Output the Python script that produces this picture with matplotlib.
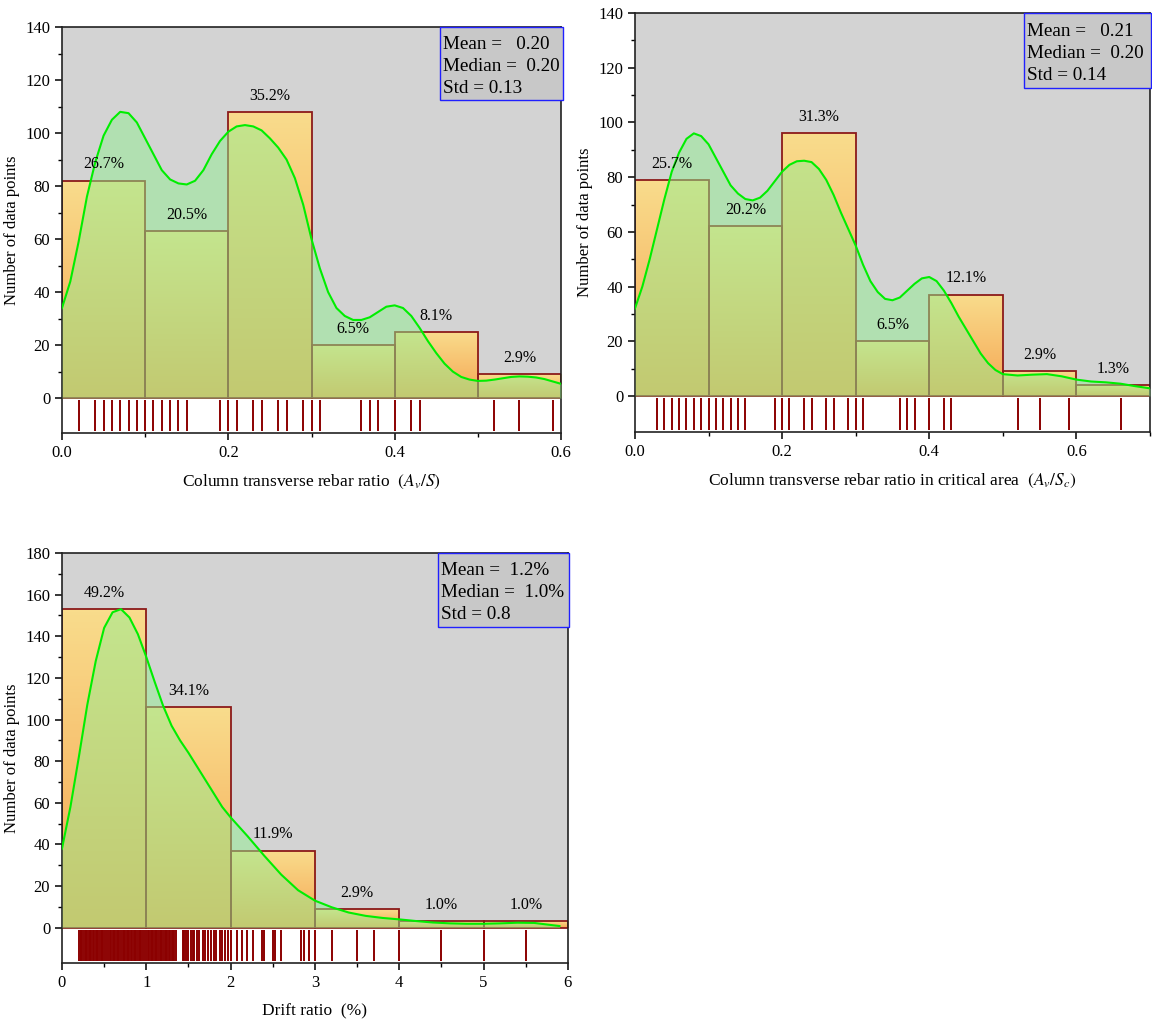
import numpy as np
import matplotlib
matplotlib.use("Agg")
import matplotlib.pyplot as plt
from matplotlib.colors import LinearSegmentedColormap
from matplotlib.patches import Rectangle

plt.rcParams['font.family'] = ['Liberation Serif', 'DejaVu Serif']
plt.rcParams['mathtext.fontset'] = 'stix'
plt.rcParams['font.size'] = 12

# --- column transverse rebar ratio (Av/S) ---
av_edges = [0.0, 0.1, 0.2, 0.3, 0.4, 0.5, 0.6]
av_counts = [82, 63, 108, 20, 25, 9]
av_kde_x = [0.00, 0.01, 0.02, 0.03, 0.04, 0.05, 0.06, 0.07, 0.08, 0.09,
            0.10, 0.11, 0.12, 0.13, 0.14, 0.15, 0.16, 0.17, 0.18, 0.19,
            0.20, 0.21, 0.22, 0.23, 0.24, 0.25, 0.26, 0.27, 0.28, 0.29,
            0.30, 0.31, 0.32, 0.33, 0.34, 0.35, 0.36, 0.37, 0.38, 0.39,
            0.40, 0.41, 0.42, 0.43, 0.44, 0.45, 0.46, 0.47, 0.48, 0.49,
            0.50, 0.51, 0.52, 0.53, 0.54, 0.55, 0.56, 0.57, 0.58, 0.59, 0.60]
av_kde_y = [34, 44, 59, 76, 89, 99, 105, 108, 107.5, 104,
            98, 92, 86, 82.5, 81, 80.6, 82, 86, 92, 97,
            100.5, 102.5, 103, 102.5, 101, 98, 94.5, 90, 83, 73,
            60, 49, 40, 34, 31, 29.5, 29.5, 30.5, 32.5, 34.5,
            35, 34, 31, 26.5, 21.5, 17, 13, 10, 8, 7,
            6.5, 6.6, 7, 7.5, 8, 8.2, 8.1, 7.8, 7.2, 6.3, 5.4]
av_rug = [0.02, 0.04, 0.05, 0.06, 0.07, 0.08, 0.09, 0.10, 0.11, 0.12, 0.13,
          0.14, 0.15, 0.19, 0.20, 0.21, 0.23, 0.24, 0.26, 0.27, 0.29, 0.30,
          0.31, 0.36, 0.37, 0.38, 0.40, 0.42, 0.43, 0.52, 0.55, 0.59]
av_stats = ["Mean =   0.20", "Median =  0.20", "Std = 0.13"]

# --- transverse rebar ratio in critical area (Av/Sc) ---
avc_edges = [0.0, 0.1, 0.2, 0.3, 0.4, 0.5, 0.6, 0.7]
avc_counts = [79, 62, 96, 20, 37, 9, 4]
avc_kde_x = [0.00, 0.01, 0.02, 0.03, 0.04, 0.05, 0.06, 0.07, 0.08, 0.09,
             0.10, 0.11, 0.12, 0.13, 0.14, 0.15, 0.16, 0.17, 0.18, 0.19,
             0.20, 0.21, 0.22, 0.23, 0.24, 0.25, 0.26, 0.27, 0.28, 0.29,
             0.30, 0.31, 0.32, 0.33, 0.34, 0.35, 0.36, 0.37, 0.38, 0.39,
             0.40, 0.41, 0.42, 0.43, 0.44, 0.45, 0.46, 0.47, 0.48, 0.49,
             0.50, 0.52, 0.54, 0.56, 0.58, 0.60, 0.62, 0.64, 0.66, 0.68, 0.70]
avc_kde_y = [32, 40, 50, 61, 72, 82, 89, 94, 96, 95,
             92, 87, 82, 77, 74, 72, 71.5, 72.5, 75, 78.5,
             82, 84.5, 85.8, 86, 85.5, 83, 79, 73.5, 67, 61,
             55, 48, 42, 38, 35.5, 35, 36, 38.5, 41, 43,
             43.5, 42, 38.5, 34, 29, 24.5, 20, 15.5, 12, 9.5,
             8, 7.5, 7.8, 8.0, 7.2, 6, 5.3, 5, 4.5, 3.6, 2.8]
avc_rug = [0.03, 0.04, 0.05, 0.06, 0.07, 0.08, 0.09, 0.10, 0.11, 0.12, 0.13,
           0.14, 0.15, 0.19, 0.20, 0.21, 0.23, 0.24, 0.26, 0.27, 0.29, 0.30,
           0.31, 0.36, 0.37, 0.38, 0.40, 0.42, 0.43, 0.52, 0.55, 0.59, 0.66]
avc_stats = ["Mean =   0.21", "Median =  0.20", "Std = 0.14"]

# --- drift ratio (%) ---
dr_edges = [0, 1, 2, 3, 4, 5, 6]
dr_counts = [153, 106, 37, 9, 3, 3]
dr_kde_x = [0.0, 0.1, 0.2, 0.3, 0.4, 0.5, 0.6, 0.7, 0.8, 0.9,
            1.0, 1.1, 1.2, 1.3, 1.4, 1.5, 1.6, 1.7, 1.8, 1.9,
            2.0, 2.2, 2.4, 2.6, 2.8, 3.0, 3.2, 3.4, 3.6, 3.8,
            4.0, 4.2, 4.4, 4.6, 4.8, 5.0, 5.2, 5.4, 5.6, 5.8, 5.9]
dr_kde_y = [38, 58, 82, 107, 128, 144, 151.5, 153, 149, 141,
            130, 118, 106.5, 97, 90, 84, 77.5, 71, 64.5, 58,
            53, 44, 34.5, 25.5, 18, 13, 9.8, 7.3, 5.7, 4.7,
            4, 3.2, 2.5, 2.1, 1.9, 1.9, 2.1, 2.4, 2.3, 1.3, 0.8]
dr_rug = [0.20, 0.22, 0.23, 0.25, 0.27, 0.28, 0.30, 0.32, 0.33, 0.35, 0.37,
          0.38, 0.40, 0.42, 0.43, 0.45, 0.47, 0.48, 0.50, 0.52, 0.55, 0.57,
          0.58, 0.60, 0.62, 0.63, 0.65, 0.67, 0.68, 0.70, 0.72, 0.73, 0.75,
          0.77, 0.78, 0.80, 0.82, 0.83, 0.85, 0.87, 0.88, 0.90, 0.92, 0.93,
          0.95, 0.97, 1.00, 1.02, 1.03, 1.05, 1.07, 1.08, 1.10, 1.12, 1.13,
          1.15, 1.17, 1.18, 1.20, 1.22, 1.23, 1.25, 1.27, 1.28, 1.30, 1.32,
          1.33, 1.35, 1.43, 1.45, 1.47, 1.50, 1.53, 1.55, 1.57, 1.60, 1.63,
          1.67, 1.70, 1.73, 1.77, 1.80, 1.83, 1.87, 1.90, 1.93, 1.97, 2.00,
          2.07, 2.13, 2.20, 2.27, 2.37, 2.40, 2.50, 2.53, 2.60, 2.83, 2.87,
          2.93, 3.00, 3.20, 3.50, 3.70, 4.00, 4.50, 5.00, 5.50]
dr_stats = ["Mean =  1.2%", "Median =  1.0%", "Std = 0.8"]

bar_cmap = LinearSegmentedColormap.from_list("bar", ["#f5a552", "#f9dc8c"])
gradient = np.linspace(0, 1, 100).reshape(-1, 1)


def draw_panel(ax, edges, counts, kde_x, kde_y, rug, ymax, xmajor, xminor,
               xlabel, stats, box_x0, xfmt):
    ybot = -ymax * 0.094
    ax.set_facecolor("white")
    ax.axhspan(0, ymax, color="#d3d3d3", zorder=0, lw=0)

    total = sum(counts)
    for left, right, c in zip(edges[:-1], edges[1:], counts):
        im = ax.imshow(gradient, cmap=bar_cmap, origin="lower", aspect="auto",
                       extent=[left, right, 0, c], zorder=1)
        rect = Rectangle((left, 0), right - left, c, fc="none",
                         ec="#8b1a1a", lw=1.3, zorder=2)
        ax.add_patch(rect)
        im.set_clip_path(rect)
        ax.annotate(f"{c / total * 100:.1f}%", ((left + right) / 2, c),
                    xytext=(0, 6), textcoords="offset points",
                    ha="center", va="bottom", fontsize=11.5, zorder=6)

    ax.fill_between(kde_x, kde_y, 0, color="#90ee90", alpha=0.5, lw=0, zorder=3)
    ax.plot(kde_x, kde_y, color="#00ee00", lw=1.5, zorder=4)

    ax.vlines(rug, ybot * 0.95, ybot * 0.06, color="#8b0000", lw=1.4, zorder=2)

    ax.set_xlim(edges[0], edges[-1])
    ax.set_ylim(ybot, ymax)
    ax.set_yticks(np.arange(0, ymax + 1, 20))
    ax.set_yticks(np.arange(10, ymax, 20), minor=True)
    ax.set_xticks(np.arange(edges[0], edges[-1] + 1e-9, xmajor))
    ax.set_xticks(np.arange(edges[0], edges[-1] + 1e-9, xminor), minor=True)
    ax.xaxis.set_major_formatter(xfmt)
    ax.tick_params(which="major", direction="out", length=5, width=1.1,
                   labelsize=12)
    ax.tick_params(which="minor", direction="out", length=3, width=1.0)
    for s in ax.spines.values():
        s.set_linewidth(1.2)
        s.set_color("#222222")

    ax.set_xlabel(xlabel, labelpad=9, fontsize=12.5)
    ax.set_ylabel("Number of data points", labelpad=4, fontsize=12)

    # summary statistics box in the upper right corner
    box = Rectangle((box_x0, 0.82), 1.003 - box_x0, 0.18, transform=ax.transAxes,
                    fc="#c8c8c8", ec="#2020ff", lw=1.0, zorder=7, clip_on=False)
    ax.add_patch(box)
    ax.text(box_x0 + 0.006, 0.977, "\n".join(stats), transform=ax.transAxes,
            ha="left", va="top", fontsize=13.8, linespacing=1.38, zorder=8)


fig = plt.figure(figsize=(11.52, 10.23), dpi=100)
ax1 = fig.add_axes([0.0538, 0.5767, 0.4332, 0.3969])
ax2 = fig.add_axes([0.5512, 0.5777, 0.4470, 0.4096])
ax3 = fig.add_axes([0.0538, 0.0587, 0.4392, 0.4008])

draw_panel(ax1, av_edges, av_counts, av_kde_x, av_kde_y, av_rug, 140, 0.2, 0.1,
           r"Column transverse rebar ratio  $(A_v/S)$", av_stats, 0.757,
           plt.FormatStrFormatter("%.1f"))
draw_panel(ax2, avc_edges, avc_counts, avc_kde_x, avc_kde_y, avc_rug, 140, 0.2, 0.1,
           r"Column transverse rebar ratio in critical area  $(A_v/S_c)$", avc_stats,
           0.755, plt.FormatStrFormatter("%.1f"))
draw_panel(ax3, dr_edges, dr_counts, dr_kde_x, dr_kde_y, dr_rug, 180, 1, 0.5,
           "Drift ratio  (%)", dr_stats, 0.743, plt.FormatStrFormatter("%d"))

fig.savefig("out.png", dpi=100)
